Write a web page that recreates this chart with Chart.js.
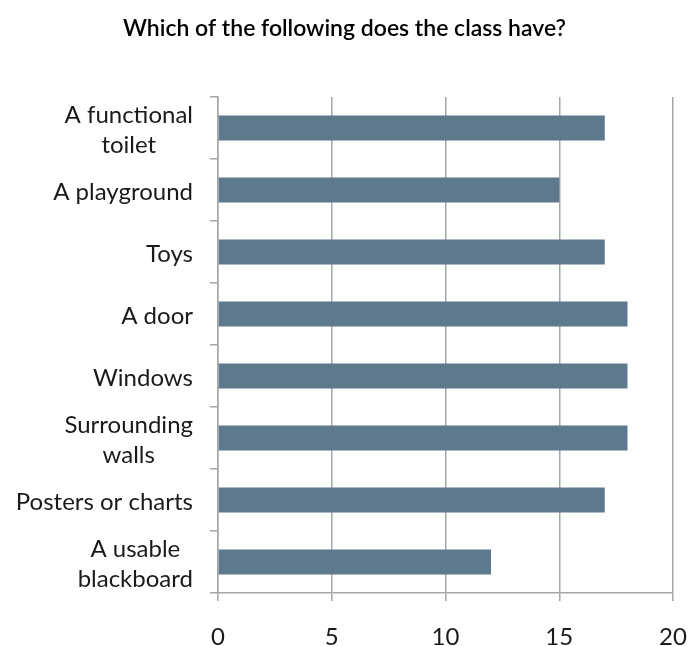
<!DOCTYPE html>
<html lang="en">
<head>
  <meta charset="UTF-8" />
  <title>Which of the following does the class have?</title>
  <script src="https://cdn.jsdelivr.net/npm/chart.js"></script>
  <style>
    html, body { margin: 0; padding: 0; background: #fff; }
    #wrap { width: 689px; height: 646px; }
  </style>
</head>
<body>
  <div id="wrap"><canvas id="classChart" width="689" height="646"></canvas></div>

  <script>
    // categories, one entry per bar (lines of a wrapped label)
    const categories = [
      ['A functional', 'toilet'],
      ['A playground'],
      ['Toys'],
      ['A door'],
      ['Windows'],
      ['Surrounding', 'walls'],
      ['Posters or charts'],
      ['A usable', 'blackboard']
    ];
    const counts = [17, 15, 17, 18, 18, 18, 17, 12];
    const xTicks = [0, 5, 10, 15, 20];
    const chartTitle = 'Which of the following does the class have?';

    const labelFont = '24px Lato';
    const gridColor = '#a6a6a6';

    // y labels: lines of a label centred on each other, block right-aligned
    const wrappedLabels = {
      id: 'wrappedLabels',
      afterDraw(chart) {
        const y = chart.scales.y;
        const ctx = chart.ctx;
        ctx.save();
        ctx.font = labelFont;
        ctx.fillStyle = '#1a1a1a';
        ctx.textAlign = 'center';
        ctx.textBaseline = 'middle';
        const lineH = 30;
        const right = y.right - 25;
        categories.forEach((lines, i) => {
          const cy = y.getPixelForTick(i) + 2;
          const w = Math.max(...lines.map(l => ctx.measureText(l).width));
          const cx = right - w / 2;
          const top = cy - (lines.length - 1) * lineH / 2;
          lines.forEach((l, k) => ctx.fillText(l, cx, top + k * lineH));
        });
        ctx.restore();
      }
    };

    const titlePlugin = {
      id: 'titleText',
      afterDraw(chart) {
        const ctx = chart.ctx;
        ctx.save();
        ctx.font = '600 23px Lato';
        ctx.fillStyle = '#000';
        ctx.textAlign = 'center';
        ctx.textBaseline = 'alphabetic';
        ctx.fillText(chartTitle, chart.width / 2, 36);
        ctx.restore();
      }
    };

    new Chart(document.getElementById('classChart'), {
      type: 'bar',
      data: {
        labels: categories,
        datasets: [{
          data: counts,
          backgroundColor: '#5e798e',
          borderWidth: 0,
          categoryPercentage: 1,
          barPercentage: 0.4
        }]
      },
      options: {
        indexAxis: 'y',
        responsive: false,
        animation: false,
        layout: { padding: { top: 97, right: 16, left: 0, bottom: 0 } },
        plugins: {
          legend: { display: false },
          tooltip: { enabled: false }
        },
        scales: {
          x: {
            min: xTicks[0],
            max: xTicks[xTicks.length - 1],
            afterBuildTicks(scale) {
              scale.ticks = xTicks.map(v => ({ value: v }));
            },
            afterFit(scale) {
              scale.height = 53;
              scale.paddingLeft = 0;
              scale.paddingRight = 0;
            },
            grid: { color: gridColor, lineWidth: 1.5, tickLength: 8 },
            border: { color: gridColor, width: 1.5 },
            ticks: {
              color: '#1a1a1a',
              font: { family: 'Lato', size: 24 },
              padding: 22,
              maxRotation: 0
            }
          },
          y: {
            afterFit(scale) { scale.width = 218; },
            grid: { offset: true, drawOnChartArea: false, color: gridColor, lineWidth: 1.5, tickLength: 8 },
            border: { color: gridColor, width: 1.5 },
            ticks: { display: false }
          }
        }
      },
      plugins: [wrappedLabels, titlePlugin]
    });
  </script>
</body>
</html>
